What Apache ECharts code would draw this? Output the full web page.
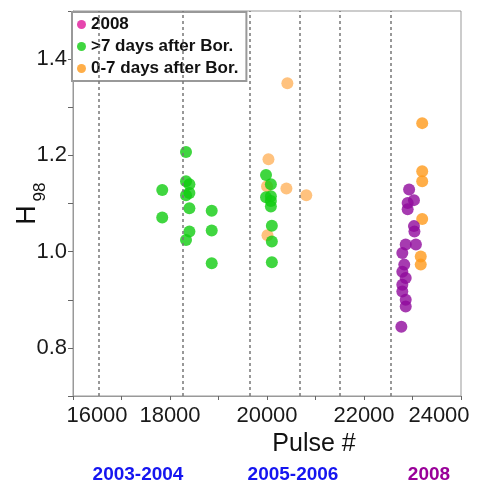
<!DOCTYPE html>
<html>
<head>
<meta charset="utf-8">
<script src="https://cdn.jsdelivr.net/npm/echarts@6/dist/echarts.min.js"></script>
<style>
  html, body { margin: 0; padding: 0; background: #fff; }
  #main { width: 478px; height: 486px; }
</style>
</head>
<body>
<div id="main"></div>
<script>
// H98 against pulse number, three campaigns
const xLabels = [16000, 18000, 20000, 22000, 24000];
const yLabels = [0.8, 1.0, 1.2, 1.4];

// campaign boundaries (dotted lines)
const boundaries = [16540, 18260, 19640, 20670, 21500, 22560];

// 2008 campaign
const points2008 = [
  [22930, 1.129], [23030, 1.107], [22900, 1.101], [22900, 1.088], [23030, 1.053],
  [23040, 1.042], [22860, 1.015], [23070, 1.015], [22790, 0.997], [22830, 0.973],
  [22790, 0.958], [22860, 0.945], [22790, 0.931], [22790, 0.917], [22860, 0.900],
  [22860, 0.886], [22770, 0.844]
];

// >7 days after boronisation
const pointsLate = [
  [17840, 1.128], [17840, 1.071], [18330, 1.207], [18330, 1.146], [18400, 1.140],
  [18400, 1.122], [18330, 1.117], [18400, 1.090], [18400, 1.042], [18330, 1.024],
  [18860, 1.085], [18860, 1.044], [18860, 0.976],
  [19980, 1.159], [20080, 1.140], [19980, 1.113], [20080, 1.115], [20080, 1.105],
  [20080, 1.094], [20100, 1.054], [20100, 1.021], [20100, 0.978]
];

// 0-7 days after boronisation (2005-2006 and 2008)
const pointsEarly0506 = [
  [20420, 1.350], [20030, 1.192], [20000, 1.136], [20400, 1.131], [20810, 1.117], [20010, 1.034]
];
const pointsEarly08 = [
  [23200, 1.267], [23200, 1.167], [23200, 1.146], [23200, 1.068], [23170, 0.990], [23170, 0.973]
];

const font = 'Liberation Sans, Arial, sans-serif';
const chart = echarts.init(document.getElementById('main'));

const option = {
  animation: false,
  grid: { left: 73, right: 17, top: 11, bottom: 90, show: true, borderColor: '#999', borderWidth: 1 },
  legend: {
    orient: 'vertical', left: 72, top: 12,
    padding: [4, 8, 4, 5], itemGap: 5, itemWidth: 9, itemHeight: 9, icon: 'circle',
    backgroundColor: '#fff', borderColor: '#999', borderWidth: 2,
    textStyle: { fontSize: 17, fontWeight: 'bold', color: '#111', fontFamily: font },
    data: [
      { name: '2008', itemStyle: { color: '#e0189a' } },
      { name: '>7 days after Bor.', itemStyle: { color: '#10cc10' } },
      { name: '0-7 days after Bor.', itemStyle: { color: '#ff9a1a' } }
    ]
  },
  xAxis: {
    type: 'value', min: 16000, max: 24000, interval: 1000,
    axisLine: { lineStyle: { color: '#999' } },
    axisTick: { length: 4, lineStyle: { color: '#666' } },
    splitLine: { show: false },
    axisLabel: {
      margin: 9, fontSize: 22, color: '#1a1a1a', fontFamily: font,
      formatter: function (v) {
        if (!xLabels.includes(v)) return '';
        if (v === xLabels[0]) return '{l|' + v + '}';
        if (v === xLabels[xLabels.length - 1]) return '{r|' + v + '}';
        return String(v);
      },
      rich: {
        l: { fontSize: 22, color: '#1a1a1a', fontFamily: font, padding: [0, 0, 0, 48] },
        r: { fontSize: 22, color: '#1a1a1a', fontFamily: font, padding: [0, 44, 0, 0] }
      }
    }
  },
  yAxis: {
    type: 'value', min: 0.7, max: 1.5, interval: 0.1,
    axisLine: { show: true, lineStyle: { color: '#999' } },
    axisTick: { show: true, length: 5, lineStyle: { color: '#666' } },
    splitLine: { show: false },
    axisLabel: {
      margin: 6, fontSize: 22, color: '#1a1a1a', fontFamily: font,
      formatter: function (v) {
        const hit = yLabels.find(function (t) { return Math.abs(t - v) < 1e-6; });
        return hit === undefined ? '' : hit.toFixed(1);
      }
    }
  },
  graphic: [
    { type: 'text', x: 28, y: 215, rotation: Math.PI / 2,
      style: { text: 'H', font: '27px ' + font, fill: '#111', align: 'center', verticalAlign: 'middle' } },
    { type: 'text', x: 40, y: 192, rotation: Math.PI / 2,
      style: { text: '98', font: '17px ' + font, fill: '#111', align: 'center', verticalAlign: 'middle' } },
    { type: 'text', x: 314, y: 444,
      style: { text: 'Pulse #', font: '25px ' + font, fill: '#111', align: 'center', verticalAlign: 'middle' } },
    { type: 'text', x: 138, y: 475,
      style: { text: '2003-2004', font: 'bold 19px ' + font, fill: '#1515f0', align: 'center', verticalAlign: 'middle' } },
    { type: 'text', x: 293, y: 475,
      style: { text: '2005-2006', font: 'bold 19px ' + font, fill: '#1515f0', align: 'center', verticalAlign: 'middle' } },
    { type: 'text', x: 429, y: 475,
      style: { text: '2008', font: 'bold 19px ' + font, fill: '#990099', align: 'center', verticalAlign: 'middle' } }
  ],
  series: [
    {
      name: '0-7 days after Bor.', type: 'scatter', symbolSize: 12,
      itemStyle: { color: '#ffb35e' }, data: pointsEarly0506,
      markLine: {
        silent: true, symbol: 'none', label: { show: false },
        lineStyle: { type: [3, 3], color: '#777', width: 1.5 },
        data: boundaries.map(function (b) { return { xAxis: b }; })
      }
    },
    { name: '0-7 days after Bor.', type: 'scatter', symbolSize: 12, itemStyle: { color: '#ff9a1a' }, data: pointsEarly08 },
    { name: '>7 days after Bor.', type: 'scatter', symbolSize: 12, itemStyle: { color: '#10cc10' }, data: pointsLate },
    { name: '2008', type: 'scatter', symbolSize: 12, itemStyle: { color: '#900a9c' }, data: points2008 }
  ]
};

chart.setOption(option);
</script>
</body>
</html>
